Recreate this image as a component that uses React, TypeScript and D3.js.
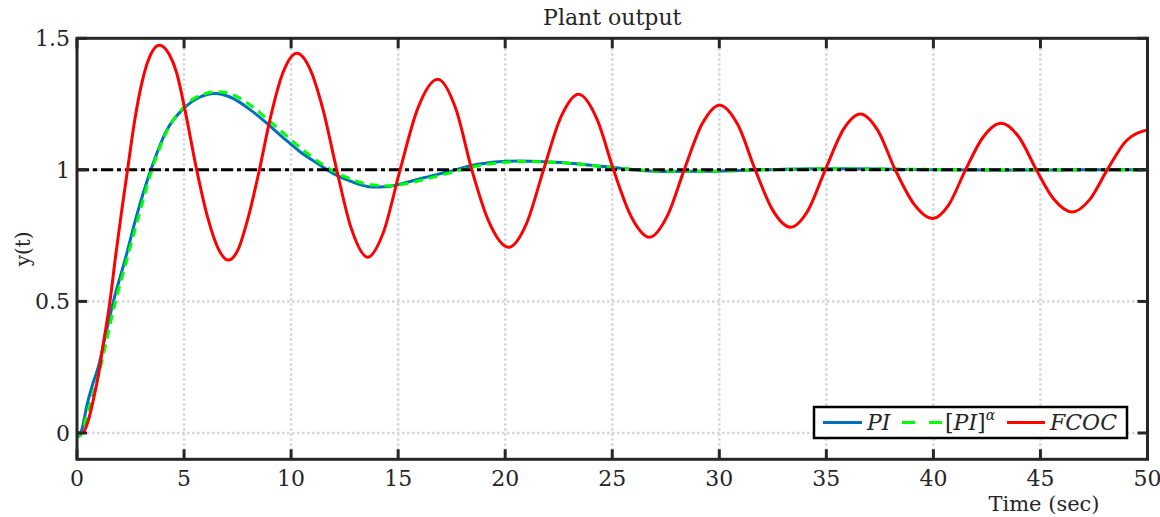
import React from "react";
import * as d3 from "d3";

const xTicks = [0, 5, 10, 15, 20, 25, 30, 35, 40, 45, 50];
const yTicks = [0, 0.5, 1, 1.5];
const yTickLabels = ["0", "0.5", "1", "1.5"];

const piT = [0, 0.1, 0.25, 0.45, 0.75, 1.0, 1.3, 1.7, 2.24, 2.8, 3.45, 4.2, 5.0, 5.7, 6.45, 7.2, 8.1, 8.9, 9.65, 10.4, 11.2, 12.0, 12.8, 13.8, 14.5, 15.1, 16.2, 17.3, 18.8, 20.7, 22.6, 24.6, 27.3, 29.6, 31.9, 35, 37.5, 40, 43, 47, 50];
const piY = [0, -0.012, 0.02, 0.1, 0.19, 0.252, 0.36, 0.5, 0.657, 0.83, 1.0, 1.152, 1.235, 1.275, 1.29, 1.275, 1.228, 1.175, 1.121, 1.07, 1.026, 0.985, 0.956, 0.935, 0.937, 0.946, 0.97, 0.992, 1.022, 1.034, 1.028, 1.013, 0.994, 0.995, 1.0, 1.004, 1.003, 1.0, 0.999, 1.0, 1.0];

const piAlphaT = [0, 0.15, 0.3, 0.5, 0.8, 1.1, 1.4, 1.8, 2.3, 2.9, 3.5, 4.25, 5.0, 5.8, 6.6, 7.3, 8.2, 9.0, 9.8, 10.5, 11.3, 12.1, 12.9, 13.7, 14.5, 15.2, 16.3, 17.4, 18.9, 21.0, 23.0, 25.2, 27.6, 29.5, 32, 35, 38, 42, 46, 50];
const piAlphaY = [0, -0.01, 0.02, 0.08, 0.16, 0.25, 0.36, 0.5, 0.65, 0.83, 1.0, 1.155, 1.24, 1.285, 1.297, 1.285, 1.24, 1.185, 1.128, 1.08, 1.03, 0.99, 0.962, 0.943, 0.94, 0.945, 0.965, 0.988, 1.018, 1.032, 1.025, 1.007, 0.995, 0.995, 1.0, 1.004, 1.003, 1.0, 0.999, 1.0];

const fcocT = [0, 0.25, 0.5, 0.76, 1.0, 1.23, 1.54, 1.8, 2.08, 2.36, 2.7, 3.0, 3.3, 3.85, 4.3, 4.65, 5.05, 5.59, 6.1, 6.6, 7.06, 7.5, 8.0, 8.52, 9.0, 9.6, 10.27, 10.9, 11.5, 12.13, 12.8, 13.58, 14.3, 15.09, 15.9, 16.85, 17.7, 18.44, 19.2, 20.16, 21.0, 21.79, 22.6, 23.43, 24.3, 25.06, 25.9, 26.74, 27.6, 28.36, 29.2, 30.01, 30.85, 31.68, 32.5, 33.32, 34.1, 34.95, 35.8, 36.59, 37.4, 38.22, 39.1, 39.97, 40.7, 41.5, 42.3, 43.16, 44.0, 44.81, 45.6, 46.48, 47.3, 48.12, 49.0, 50];
const fcocY = [0, 0.0, 0.04, 0.125, 0.22, 0.34, 0.5, 0.67, 0.84, 1.0, 1.19, 1.32, 1.41, 1.474, 1.44, 1.37, 1.225, 1.0, 0.82, 0.7, 0.657, 0.693, 0.82, 1.0, 1.186, 1.365, 1.443, 1.38, 1.226, 1.0, 0.78, 0.668, 0.76, 1.0, 1.23, 1.344, 1.23, 1.0, 0.81, 0.706, 0.797, 1.0, 1.2, 1.287, 1.19, 1.0, 0.82, 0.744, 0.83, 1.0, 1.175, 1.246, 1.174, 1.0, 0.846, 0.782, 0.84, 1.0, 1.154, 1.212, 1.15, 1.0, 0.869, 0.815, 0.865, 1.0, 1.122, 1.177, 1.124, 1.0, 0.891, 0.84, 0.887, 1.0, 1.11, 1.152];

const refT = [0, 50];
const refY = [1, 1];

const seriesNames = ["PI", "[PI]^α", "FCOC"];

const W = 1160;
const H = 517;
const left = 77;
const right = 1147.5;
const top = 38.3;
const bottom = 459.3;

const FONT = "'DejaVu Serif', 'Liberation Serif', serif";
const AX = "#262626";

function toPts(ts: number[], ys: number[]) {
  return ts.map((t, i) => [t, ys[i]] as [number, number]);
}

export default function App() {
  const x = d3.scaleLinear().domain([0, 50]).range([left, right]);
  const y = d3.scaleLinear().domain([-0.1, 1.5]).range([bottom, top]);
  const line = d3
    .line<[number, number]>()
    .x((d) => x(d[0]))
    .y((d) => y(d[1]))
    .curve(d3.curveMonotoneX);

  const piPath = line(toPts(piT, piY)) || "";
  const piaPath = line(toPts(piAlphaT, piAlphaY)) || "";
  const fcocPath = line(toPts(fcocT, fcocY)) || "";
  const refPath = d3.line<[number, number]>().x((d) => x(d[0])).y((d) => y(d[1]))(toPts(refT, refY)) || "";

  const tickLen = 10;
  const legX = 814;
  const legY = 407;
  const legW = 313;
  const legH = 31;
  const legMid = legY + legH / 2;
  const fs = 22;

  return (
    <svg
      width={W}
      height={H}
      style={{ position: "absolute", left: 0, top: 0, background: "#fff" }}
      fontFamily={FONT}
    >
      <defs>
        <clipPath id="plotclip">
          <rect x={left} y={top} width={right - left} height={bottom - top} />
        </clipPath>
      </defs>
      <rect x={0} y={0} width={W} height={H} fill="#fff" />
      {/* grid */}
      <g stroke="#d6d6d6" strokeWidth={2.5} strokeDasharray="2.5,2.5">
        {xTicks.filter((t) => t > 0 && t < 50).map((t) => (
          <line key={"gx" + t} x1={x(t)} x2={x(t)} y1={top} y2={bottom} />
        ))}
        {yTicks.filter((v) => v < 1.5).map((v) => (
          <line key={"gy" + v} x1={left} x2={right} y1={y(v)} y2={y(v)} />
        ))}
      </g>
      {/* curves */}
      <g clipPath="url(#plotclip)" fill="none" strokeLinejoin="round">
        <path d={piPath} stroke="#0072BD" strokeWidth={3} />
        <path d={piaPath} stroke="#00FF00" strokeWidth={3} strokeDasharray="9,6" />
        <path d={refPath} stroke="#000" strokeWidth={3} strokeDasharray="12,4,4,4" />
        <path d={fcocPath} stroke="#FF0000" strokeWidth={3} />
      </g>
      {/* axes box */}
      <rect x={left} y={top} width={right - left} height={bottom - top} fill="none" stroke={AX} strokeWidth={3} />
      <g stroke={AX} strokeWidth={3}>
        {xTicks.map((t) => (
          <g key={"tx" + t}>
            <line x1={x(t)} x2={x(t)} y1={bottom} y2={bottom - tickLen} />
            <line x1={x(t)} x2={x(t)} y1={top} y2={top + tickLen} />
          </g>
        ))}
        {yTicks.map((v) => (
          <g key={"ty" + v}>
            <line x1={left} x2={left + tickLen} y1={y(v)} y2={y(v)} />
            <line x1={right} x2={right - tickLen} y1={y(v)} y2={y(v)} />
          </g>
        ))}
      </g>
      {/* tick labels */}
      <g fill={AX} fontSize={fs}>
        {xTicks.map((t) => (
          <text key={"lx" + t} x={x(t)} y={486} textAnchor="middle">
            {String(t)}
          </text>
        ))}
        {yTicks.map((v, i) => (
          <text key={"ly" + v} x={70} y={y(v) + 8} textAnchor="end">
            {yTickLabels[i]}
          </text>
        ))}
      </g>
      {/* titles */}
      <text x={(left + right) / 2} y={25} textAnchor="middle" fontSize={fs} fill={AX}>
        Plant output
      </text>
      <text x={1044} y={511} textAnchor="middle" fontSize={21} fill={AX}>
        Time (sec)
      </text>
      <text
        transform={`translate(30,${(top + bottom) / 2}) rotate(-90)`}
        textAnchor="middle"
        fontSize={20}
        fill={AX}
      >
        y(t)
      </text>
      {/* legend */}
      <rect x={legX} y={legY} width={legW} height={legH} fill="#fff" stroke="#000" strokeWidth={2.5} />
      <line x1={823} x2={862} y1={legMid} y2={legMid} stroke="#0072BD" strokeWidth={3} />
      <text x={867} y={legMid + 7} fontSize={fs} fontStyle="italic" fill={AX}>
        {seriesNames[0]}
      </text>
      <line x1={902} x2={942} y1={legMid} y2={legMid} stroke="#00FF00" strokeWidth={3} strokeDasharray="13,14" />
      <text x={945} y={legMid + 7} fontSize={fs} fill={AX}>
        <tspan>[</tspan>
        <tspan fontStyle="italic">PI</tspan>
        <tspan>]</tspan>
        <tspan fontSize={14} fontStyle="italic" dy={-10}>α</tspan>
      </text>
      <line x1={1007} x2={1045} y1={legMid} y2={legMid} stroke="#FF0000" strokeWidth={3} />
      <text x={1050} y={legMid + 7} fontSize={fs} fontStyle="italic" fill={AX}>
        {seriesNames[2]}
      </text>
    </svg>
  );
}
